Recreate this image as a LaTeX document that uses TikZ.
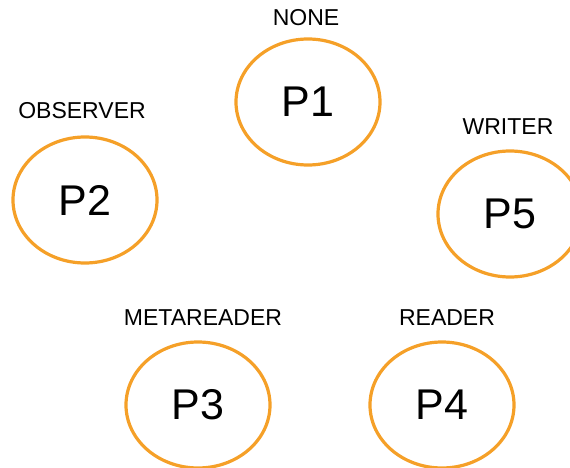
\documentclass[tikz,border=0pt]{standalone}
\usepackage{fontspec}
\setmainfont{Liberation Sans}
\usetikzlibrary{shapes.geometric}
\definecolor{ringorange}{RGB}{245,160,40}
\tikzset{
  pnode/.style={ellipse, draw=ringorange, line width=3.2pt, minimum width=144pt, minimum height=126pt, inner sep=0pt, font=\fontsize{43}{47}\selectfont},
  rolelabel/.style={font=\fontsize{23}{27}\selectfont, inner sep=0pt}
}
\begin{document}
\begin{tikzpicture}[x=1pt,y=1pt]
\useasboundingbox (0,-468) rectangle (570,0);
\node[pnode] (p1) at (308,-102) {P1};
\node[pnode] (p2) at (85,-200) {P2};
\node[pnode] (p5) at (510,-214) {P5};
\node[pnode] (p3) at (198,-405) {P3};
\node[pnode] (p4) at (442,-405) {P4};
\node[rolelabel] (l1) at (306,-18) {NONE};
\node[rolelabel] (l2) at (82,-111) {OBSERVER};
\node[rolelabel] (l5) at (508,-127) {WRITER};
\node[rolelabel] (l3) at (203,-318) {METAREADER};
\node[rolelabel] (l4) at (447,-318) {READER};
\end{tikzpicture}
\end{document}
